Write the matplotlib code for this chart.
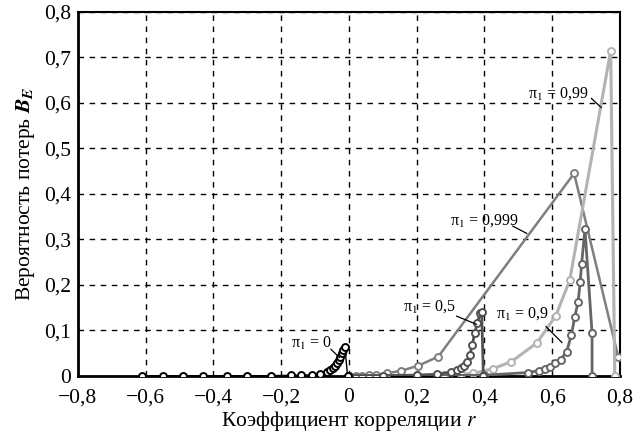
import numpy as np
import matplotlib
matplotlib.use("Agg")
import matplotlib.pyplot as plt
from matplotlib.ticker import FuncFormatter, MultipleLocator

plt.rcParams['font.family'] = ['Liberation Serif', 'DejaVu Serif']
plt.rcParams['mathtext.fontset'] = 'stix'

# pi1 = 0
r_p0 = [-0.61, -0.55, -0.49, -0.43, -0.36, -0.30, -0.23, -0.17, -0.14, -0.11,
        -0.085, -0.065, -0.055, -0.047, -0.04, -0.034, -0.029, -0.025, -0.021,
        -0.016, -0.012, -0.004]
b_p0 = [0, 0, 0, 0, 0, 0, 0, 0.001, 0.001, 0.002,
        0.004, 0.008, 0.012, 0.017, 0.022, 0.028, 0.035, 0.042, 0.05,
        0.057, 0.064, 0]

# pi1 = 0.5
r_p05 = [0.0, 0.1, 0.2, 0.26, 0.30, 0.318, 0.33, 0.34, 0.35, 0.357, 0.364,
         0.372, 0.379, 0.387, 0.392, 0.397]
b_p05 = [0, 0, 0.001, 0.003, 0.008, 0.012, 0.016, 0.021, 0.03, 0.045, 0.068,
         0.095, 0.115, 0.137, 0.141, 0]

# pi1 = 0.9
r_p09 = [0.0, 0.2, 0.4, 0.53, 0.56, 0.58, 0.595, 0.61, 0.625, 0.643, 0.657,
         0.667, 0.677, 0.683, 0.687, 0.697, 0.718, 0.718]
b_p09 = [0, 0, 0.001, 0.007, 0.011, 0.015, 0.02, 0.028, 0.035, 0.053, 0.09,
         0.13, 0.163, 0.207, 0.245, 0.323, 0.093, 0]

# pi1 = 0.99
r_p099 = [0.0, 0.1, 0.2, 0.28, 0.33, 0.367, 0.424, 0.48, 0.555, 0.611, 0.652,
          0.773, 0.785]
b_p099 = [0, 0, 0.001, 0.002, 0.003, 0.005, 0.015, 0.031, 0.072, 0.132, 0.21,
          0.715, 0]

# pi1 = 0.999
r_p0999 = [0.0, 0.02, 0.04, 0.06, 0.08, 0.111, 0.155, 0.205, 0.264, 0.665, 0.795]
b_p0999 = [0, 0, 0, 0.001, 0.002, 0.005, 0.011, 0.022, 0.042, 0.445, 0.042]

fig = plt.figure(figsize=(6.36, 4.37), dpi=100)
ax = fig.add_axes([0.1226, 0.1403, 0.852, 0.8322])

mk = dict(marker='o', markersize=5, markerfacecolor='white', markeredgewidth=1.4)
ax.plot(r_p0999, b_p0999, color='#7f7f7f', lw=1.8, **mk, markeredgecolor='#7f7f7f', zorder=3)
ax.plot(r_p099, b_p099, color='#b3b3b3', lw=2.2, **mk, markeredgecolor='#b3b3b3', zorder=3)
ax.plot(r_p09, b_p09, color='#666666', lw=2.0, **mk, markeredgecolor='#666666', zorder=4)
ax.plot(r_p05, b_p05, color='#505050', lw=2.0, **mk, markeredgecolor='#505050', zorder=4)
ax.plot(r_p0, b_p0, color='black', lw=1.0, **mk, markeredgecolor='black', zorder=5)

ax.set_xlim(-0.8, 0.8)
ax.set_ylim(0, 0.8)
ax.xaxis.set_major_locator(MultipleLocator(0.2))
ax.yaxis.set_major_locator(MultipleLocator(0.1))

def fmt(v, pos):
    if abs(v) < 1e-9:
        return '0'
    return ('%.1f' % v).replace('.', ',').replace('-', '\u2212')

ax.xaxis.set_major_formatter(FuncFormatter(fmt))
ax.yaxis.set_major_formatter(FuncFormatter(fmt))
ax.tick_params(length=0, labelsize=15.5)
ax.tick_params(axis='x', pad=9)
ax.tick_params(axis='y', pad=5)

ax.grid(True, color='black', linestyle=(0, (4, 4)), linewidth=1.0)
for s in ['left', 'bottom']:
    ax.spines[s].set_linewidth(2.0)
for s in ['top', 'right']:
    ax.spines[s].set_linewidth(1.5)

ax.set_xlabel(r'Коэффициент корреляции $\mathit{r}$', fontsize=15.5, labelpad=1)
ax.set_ylabel(r'Вероятность потерь $\mathbfit{B}_{\mathbfit{E}}$', fontsize=15.5, labelpad=5)

# labels with leader lines
notes = [
    ('π$_1$ = 0', (-0.109, 0.070), (-0.053, 0.058), (-0.028, 0.040)),
    ('π$_1$ = 0,5', (0.239, 0.151), (0.318, 0.131), (0.377, 0.113)),
    ('π$_1$ = 0,9', (0.511, 0.136), (0.582, 0.108), (0.629, 0.073)),
    ('π$_1$ = 0,999', (0.399, 0.341), (0.484, 0.329), (0.525, 0.313)),
    ('π$_1$ = 0,99', (0.620, 0.621), (0.716, 0.610), (0.745, 0.590)),
]
for txt, tpos, p1, p2 in notes:
    ax.text(tpos[0], tpos[1], txt, fontsize=11.5, ha='center', va='center', zorder=6)
    ax.plot([p1[0], p2[0]], [p1[1], p2[1]], color='black', lw=0.9, zorder=6)

fig.savefig('out.png', dpi=100)
